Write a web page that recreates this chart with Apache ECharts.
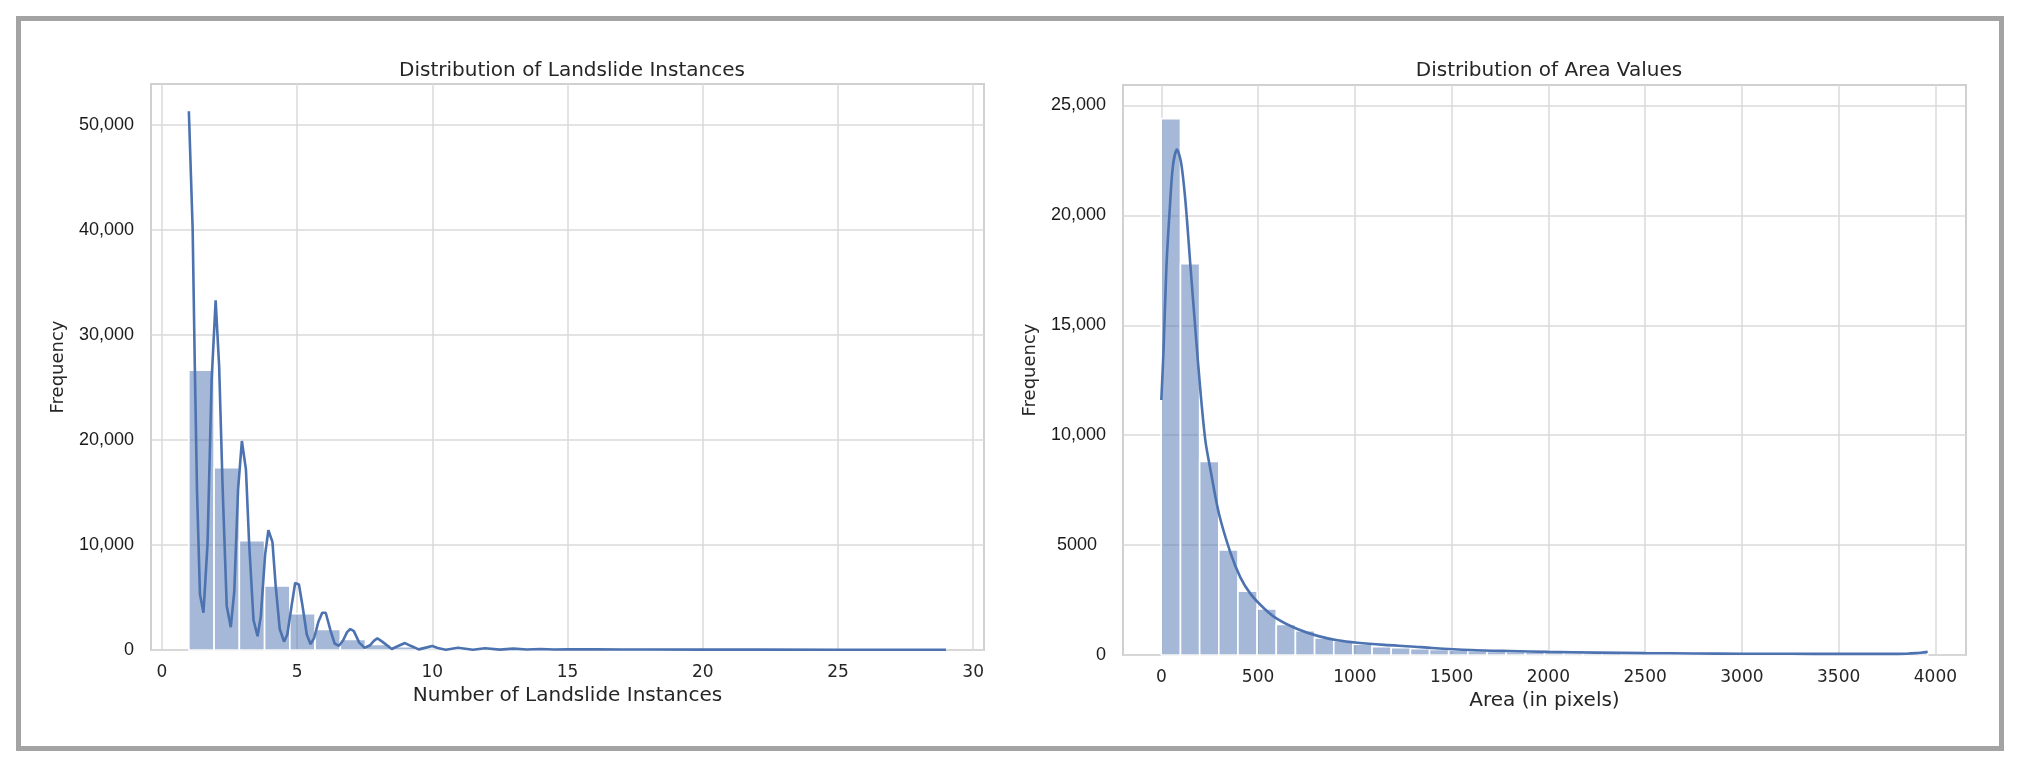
<!DOCTYPE html>
<html>
<head>
	<meta charset="UTF-8" />
	<title>Landslide distributions</title>
	<style>
		html, body { margin: 0; padding: 0; background: #fff; }
		#chart { width: 2019px; height: 767px; }
	</style>
</head>
<body>
	<div id="chart"></div>
	<script type="text/javascript" src="https://cdn.jsdelivr.net/npm/echarts@6/dist/echarts.min.js"></script>
	<script type="text/javascript">
		// left panel: number of landslide instances, 30 bins between 1 and 29
		const instBinRange = [1, 29];
		const instCounts = [26650, 17350, 10420, 6100, 3450, 1950, 1000, 520, 310, 190,
			115, 80, 55, 40, 0, 32, 26, 20, 16, 12, 10, 8, 6, 5, 4, 3, 3, 2, 2, 3];
		const instKde = [[1.00, 51300], [1.14, 40100], [1.22, 27000], [1.30, 15300], [1.41, 5300], [1.54, 3550],
			[1.69, 10100], [1.84, 25600], [1.99, 33300], [2.12, 27000], [2.25, 15300], [2.40, 4200], [2.55, 2170],
			[2.68, 5600], [2.82, 15300], [2.96, 19900], [3.11, 17200], [3.23, 10100], [3.39, 2860], [3.54, 1310],
			[3.66, 3200], [3.82, 9100], [3.94, 11400], [4.09, 10300], [4.21, 6100], [4.36, 2000], [4.52, 790],
			[4.64, 1480], [4.80, 4240], [4.93, 6380], [5.07, 6240], [5.20, 4240], [5.36, 1480], [5.50, 550],
			[5.63, 1140], [5.79, 2690], [5.93, 3550], [6.06, 3550], [6.24, 1830], [6.39, 620], [6.55, 400],
			[6.70, 900], [6.85, 1700], [6.97, 2000], [7.10, 1800], [7.30, 700], [7.50, 200], [7.70, 450],
			[7.85, 900], [7.97, 1100], [8.15, 800], [8.50, 100], [8.80, 450], [8.99, 660], [9.20, 400],
			[9.50, 60], [9.80, 250], [10.0, 380], [10.2, 200], [10.5, 30], [10.95, 220], [11.5, 30],
			[11.95, 160], [12.5, 40], [13.0, 130], [13.5, 45], [14.0, 95], [14.5, 50], [15.0, 70],
			[16, 60], [17, 50], [18, 45], [20, 40], [22, 35], [25, 30], [27, 30], [29, 30]];
		const instXRange = [-0.4, 30.4];
		const instYMax = 53900;
		const instXTicks = [0, 5, 10, 15, 20, 25, 30];
		const instYTicks = [0, 10000, 20000, 30000, 40000, 50000];

		// right panel: area in pixels, 40 bins between 0 and 3960
		const areaBinRange = [0, 3960];
		const areaCounts = [24400, 17800, 8800, 4780, 2900, 2090, 1390, 1110, 770, 650,
			490, 380, 330, 290, 250, 220, 190, 165, 145, 130,
			115, 100, 90, 80, 72, 65, 60, 55, 50, 47,
			44, 42, 40, 38, 37, 37, 40, 48, 70, 160];
		const areaKde = [[0, 11600], [12, 13990], [26, 17590], [43, 20200], [60, 22250], [81, 22990],
			[102, 22410], [124, 20700], [150, 17750], [176, 14800], [202, 12020], [228, 9730], [254, 8430],
			[297, 6460], [357, 4660], [409, 3520], [461, 2780], [530, 2130], [599, 1640], [703, 1180],
			[807, 870], [910, 670], [1014, 556], [1152, 460], [1290, 390], [1400, 320], [1600, 230],
			[1800, 180], [2000, 140], [2250, 110], [2500, 85], [2750, 70], [3000, 60], [3250, 55],
			[3500, 50], [3750, 50], [3850, 60], [3900, 85], [3960, 150]];
		const areaXRange = [-198, 4158];
		const areaYMax = 25930;
		const areaXTicks = [0, 500, 1000, 1500, 2000, 2500, 3000, 3500, 4000];
		const areaYTicks = [0, 5000, 10000, 15000, 20000, 25000];

		const BLUE = '#4c72b0';
		const TEXT = '#262626';
		const GRID_LINE = { color: '#dadada', width: 1.5 };

		// [start, end, count] rows for the custom bar series
		function binRows(range, counts) {
			const w = (range[1] - range[0]) / counts.length;
			return counts.map((c, i) => [range[0] + i * w, range[0] + (i + 1) * w, c]);
		}

		function renderBin(params, api) {
			const p0 = api.coord([api.value(0), api.value(2)]);
			const p1 = api.coord([api.value(1), 0]);
			return {
				type: 'rect',
				shape: { x: p0[0], y: p0[1], width: p1[0] - p0[0], height: p1[1] - p0[1] },
				style: { fill: 'rgba(76,114,176,0.5)', stroke: '#ffffff', lineWidth: 1.6 }
			};
		}

		function yFormat(v) {
			if (v >= 10000) return v.toLocaleString('en-US');
			if (v === 5000) return '{pad|5000}';
			return String(v);
		}

		function xAxisOf(idx, range, ticks, name) {
			return {
				gridIndex: idx, type: 'value', min: range[0], max: range[1],
				name: name, nameLocation: 'middle', nameGap: 36,
				nameTextStyle: { fontFamily: 'DejaVu Sans', fontSize: 20, color: TEXT },
				axisLine: { show: false },
				axisTick: { show: false, customValues: ticks },
				axisLabel: {
					customValues: ticks, margin: 14, fontFamily: 'DejaVu Sans', fontSize: 17, color: TEXT,
					formatter: v => String(v)
				},
				splitLine: { show: true, lineStyle: GRID_LINE }
			};
		}

		function yAxisOf(idx, max, ticks) {
			return {
				gridIndex: idx, type: 'value', min: 0, max: max,
				name: 'Frequency', nameLocation: 'middle', nameGap: 84, nameRotate: 90,
				nameTextStyle: { fontFamily: 'DejaVu Sans', fontSize: 18, color: TEXT },
				axisLine: { show: false },
				axisTick: { show: false, customValues: ticks },
				axisLabel: {
					customValues: ticks, margin: 17, fontFamily: 'Liberation Sans', fontSize: 18, color: '#1a1a1a',
					formatter: yFormat,
					rich: { pad: { fontFamily: 'Liberation Sans', fontSize: 18, color: '#1a1a1a', padding: [0, 9, 0, 0] } }
				},
				splitLine: { show: true, lineStyle: GRID_LINE }
			};
		}

		const chart = echarts.init(document.getElementById('chart'));
		const titleStyle = { fontFamily: 'DejaVu Sans', fontSize: 20, fontWeight: 'normal', color: TEXT };

		chart.setOption({
			backgroundColor: '#ffffff',
			animation: false,
			graphic: [{
				type: 'rect', silent: true,
				shape: { x: 18.5, y: 18.5, width: 1983, height: 730 },
				style: { fill: 'none', stroke: '#a3a3a3', lineWidth: 5 }
			}],
			title: [
				{ text: 'Distribution of Landslide Instances', left: 567, top: 56, textAlign: 'center', textStyle: titleStyle },
				{ text: 'Distribution of Area Values', left: 1544, top: 56, textAlign: 'center', textStyle: titleStyle }
			],
			grid: [
				{ left: 151, top: 84, width: 833, height: 566, show: true, borderColor: '#d0d0d0', borderWidth: 2 },
				{ left: 1123, top: 85, width: 843, height: 570, show: true, borderColor: '#d0d0d0', borderWidth: 2 }
			],
			xAxis: [
				xAxisOf(0, instXRange, instXTicks, 'Number of Landslide Instances'),
				xAxisOf(1, areaXRange, areaXTicks, 'Area (in pixels)')
			],
			yAxis: [
				yAxisOf(0, instYMax, instYTicks),
				yAxisOf(1, areaYMax, areaYTicks)
			],
			series: [
				{
					type: 'custom', xAxisIndex: 0, yAxisIndex: 0, z: 2,
					data: binRows(instBinRange, instCounts),
					encode: { x: [0, 1], y: 2 },
					renderItem: renderBin
				},
				{
					type: 'line', xAxisIndex: 0, yAxisIndex: 0, z: 3,
					data: instKde, showSymbol: false, smooth: false,
					lineStyle: { color: BLUE, width: 2.6 }
				},
				{
					type: 'custom', xAxisIndex: 1, yAxisIndex: 1, z: 2,
					data: binRows(areaBinRange, areaCounts),
					encode: { x: [0, 1], y: 2 },
					renderItem: renderBin
				},
				{
					type: 'line', xAxisIndex: 1, yAxisIndex: 1, z: 3,
					data: areaKde, showSymbol: false, smooth: 0.3,
					lineStyle: { color: BLUE, width: 2.6 }
				}
			]
		});
	</script>
</body>
</html>
